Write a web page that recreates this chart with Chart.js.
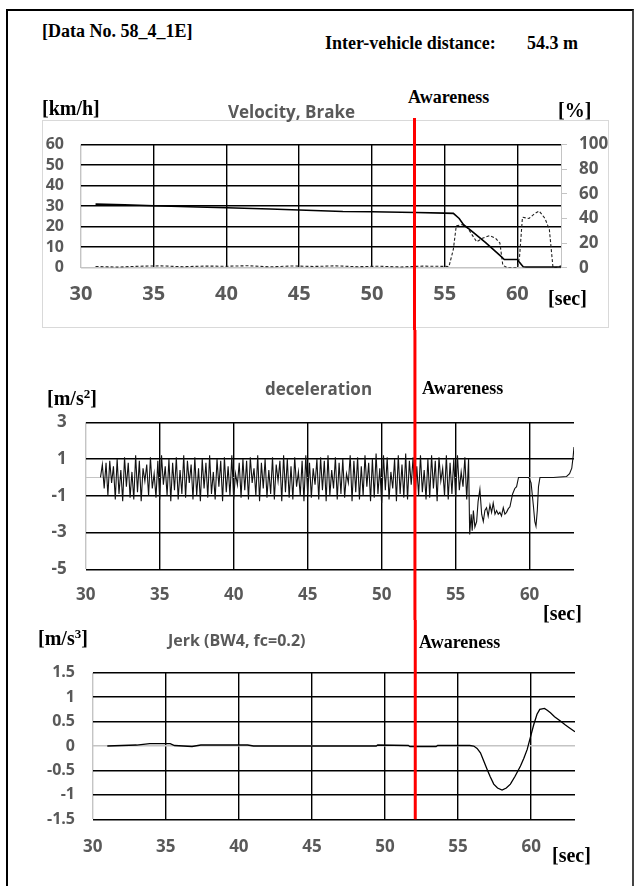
<!DOCTYPE html>
<html>
<head>
<meta charset="utf-8">
<script src="https://cdn.jsdelivr.net/npm/chart.js@4"></script>
<style>
  body { margin: 0; background: #fff; width: 635px; height: 886px; position: relative; overflow: hidden; }
  #frame { position: absolute; left: 6px; top: 9px; width: 624px; height: 900px; border-left: 2px solid #000; border-top: 2px solid #000; border-right: 2px solid #444; }
  #box1 { position: absolute; left: 42px; top: 120px; width: 565px; height: 206px; border: 1px solid #d9d9d9; }
  canvas { position: absolute; left: 0; }
  .t { position: absolute; white-space: nowrap; line-height: 1; }
  .serif { font-family: "Liberation Serif", "Times New Roman", serif; font-weight: bold; color: #000; }
  .sans { font-family: "Open Sans", sans-serif; font-weight: 700; color: #595959; }
  sup { font-size: 0.65em; vertical-align: 0.55em; line-height: 0; }
</style>
</head>
<body>
<div id="frame"></div>
<div id="box1"></div>
<canvas id="velChart" width="635" height="212" style="top:118px"></canvas>
<canvas id="decelChart" width="635" height="290" style="top:330px"></canvas>
<canvas id="jerkChart" width="635" height="266" style="top:620px"></canvas>

<div class="t serif" style="left:42px;top:22px;font-size:18px">[Data No. 58_4_1E]</div>
<div class="t serif" style="left:325px;top:34px;font-size:18px">Inter-vehicle distance:</div>
<div class="t serif" style="left:527px;top:34px;font-size:18px">54.3 m</div>

<div class="t serif" style="left:408px;top:88px;font-size:18px">Awareness</div>
<div class="t serif" style="left:42px;top:98px;font-size:20px">[km/h]</div>
<div class="t sans" style="left:228px;top:103px;font-size:17px">Velocity, Brake</div>
<div class="t serif" style="left:558px;top:100px;font-size:20px">[%]</div>
<div class="t serif" style="left:548px;top:288px;font-size:20px">[sec]</div>

<div class="t serif" style="left:47px;top:388px;font-size:20px">[m/s<sup>2</sup>]</div>
<div class="t sans" style="left:265px;top:380px;font-size:17px">deceleration</div>
<div class="t serif" style="left:422px;top:379px;font-size:18px">Awareness</div>
<div class="t serif" style="left:543px;top:603px;font-size:20px">[sec]</div>

<div class="t serif" style="left:38px;top:628px;font-size:20px">[m/s<sup>3</sup>]</div>
<div class="t sans" style="left:168px;top:632px;font-size:16px">Jerk (BW4, fc=0.2)</div>
<div class="t serif" style="left:419px;top:633px;font-size:18px">Awareness</div>
<div class="t serif" style="left:552px;top:845px;font-size:20px">[sec]</div>

<script>
// ---- data ----
const xTicks = [30, 35, 40, 45, 50, 55, 60];

// velocity [km/h]
const velT = [31.0, 33.0, 35.0, 38.0, 40.0, 43.0, 45.0, 48.0, 50.0, 53.0, 55.0, 55.6,
  56.0, 56.3, 56.8, 57.3, 57.8, 58.3, 58.8, 59.1, 60.0, 60.1, 60.4, 60.6, 63.0];
const velV = [31.0, 30.7, 30.2, 29.6, 29.2, 28.6, 28.1, 27.4, 27.3, 26.9, 26.6, 26.5,
  24.0, 21.0, 18.2, 15.3, 12.3, 9.2, 6.0, 4.0, 4.0, 3.0, 0.5, 0.3, 0.3];

// brake [%]
const brakeT = [31.0, 32.5, 34.0, 35.5, 37.0, 38.5, 40.0, 41.5, 43.0, 44.5, 46.0, 47.5, 49.0, 50.5, 52.0, 53.5, 55.3,
  55.6, 55.8, 56.2, 56.6, 57.2, 57.6, 58.1, 58.5, 58.8, 59.0, 59.3, 60.0,
  60.15, 60.35, 60.8, 61.2, 61.5, 61.9, 62.2, 62.45, 62.8, 63.0];
const brakeV = [1.0, 0.5, 1.2, 1.5, 0.8, 1.3, 1.2, 1.6, 0.7, 1.4, 1.0, 1.5, 0.8, 1.2, 0.6, 1.3, 1.0,
  15, 34, 35, 32, 21, 24, 26, 24, 20, 2, 0, 0,
  9, 41, 40, 44, 46, 40, 31, 0, 0.5, 1.5];

// deceleration [m/s2]: evenly sampled noisy part, then the braking tail
const decelT0 = 31.0;
const decelDt = 0.125;
const decelNoise = [
  0.0, 0.7, -0.6, 0.8, -1.0, 0.9, -0.3, 0.6, -1.2, 1.0, -0.9, 0.4, -1.3, 1.1, -0.5, 0.8, -1.1, 0.3, -1.2, 1.2,
  -0.8, 0.9, -1.3, 0.5, -0.2, 0.7, -1.0, 1.1, -0.6, 0.2, -1.1, 0.9, -1.2, 1.2, -0.4, 0.6, -1.0, 1.0, -1.3, 0.8,
  -0.7, 1.1, -1.2, 0.4, -0.9, 1.2, -1.1, 0.9, -0.3, 0.7, -1.2, 1.1, -1.0, 0.5, -1.3, 1.0, -0.6, 0.8, -1.1, 1.2,
  -0.9, 0.3, -1.2, 1.0, -0.5, 0.9, -1.3, 1.1, -0.8, 0.6, -1.0, 1.2, -1.2, 0.2, -0.4, 0.8, -1.1, 1.0, -0.7, 0.9,
  -1.2, 1.1, -0.3, 0.5, -1.0, 1.2, -1.3, 0.8, -0.6, 1.0, -1.1, 0.4, -0.9, 1.1, -1.2, 0.7, -0.2, 0.9, -1.3, 1.2,
  -0.8, 1.0, -1.1, 0.6, -1.2, 1.1, -0.5, 0.3, -1.0, 0.9, -1.3, 1.2, -0.9, 0.8, -1.1, 0.5, -0.4, 1.0, -1.2, 1.1,
  -0.7, 0.9, -1.3, 1.2, -1.0, 0.4, -0.6, 1.1, -1.2, 0.8, -0.9, 1.0, -1.1, 0.2, -0.3, 1.2, -1.3, 0.9, -0.8, 1.1,
  -1.2, 0.6, -1.0, 1.2, -0.5, 0.8, -1.3, 1.0, -1.1, 1.3, -0.9, 0.5, -1.4, 1.2, -0.7, 1.1, -1.2, 0.3, -0.6, 1.0,
  -1.3, 1.2, -0.9, 0.7, -1.1, 1.3, -1.2, 0.9, -0.4, 1.1, -1.3, 0.6, -1.0, 1.2, -0.8, 0.4, -1.2, 1.0, -1.1, 1.2,
  -0.6, 0.9, -1.3, 1.1, -0.2, 0.5, -1.0, 1.2, -1.2, 0.8, -0.9, 1.0, -1.1, 1.2, -0.7, 0.3, -0.5, 1.1, -1.2, 1.0
];
const decelTailT = [55.95, 56.05, 56.12, 56.2, 56.3, 56.42, 56.52, 56.64, 56.76, 56.87, 56.98, 57.09, 57.2, 57.32,
  57.43, 57.54, 57.66, 57.77, 57.88, 57.99, 58.1, 58.22, 58.33, 58.44, 58.56, 58.67, 58.85, 59.0, 59.12,
  59.25, 59.35, 59.8, 59.95, 60.1, 60.25, 60.35, 60.43, 60.52, 60.6, 60.7, 61.6, 62.5, 62.7, 62.85, 62.95, 63.0];
const decelTailV = [-3.1, -2.0, -2.9, -1.8, -2.7, -2.4, -1.3, -0.65, -2.0, -2.4, -1.8, -1.65, -2.1, -1.5,
  -1.9, -1.4, -2.0, -1.8, -2.0, -1.9, -2.1, -1.65, -2.0, -1.9, -1.7, -1.6, -0.9, -0.6, -0.5,
  0.0, 0.0, 0.0, 0.0, -0.3, -1.5, -2.4, -2.65, -1.8, -0.5, 0.0, 0.0, 0.05, 0.2, 0.5, 1.2, 1.65];

// jerk [m/s3]
const jerkT = [31.0, 32.0, 33.0, 33.9, 35.3, 35.6, 36.8, 37.4, 40.6, 41.0, 45.0, 49.4, 49.5, 51.6, 51.7, 53.5, 53.6, 55.8,
  56.07, 56.3, 56.53, 56.75, 56.99, 57.2, 57.44, 57.7, 58.01, 58.3, 58.58, 58.9, 59.27, 59.5, 59.73, 59.95,
  60.18, 60.4, 60.59, 60.91, 61.1, 61.32, 61.6, 62.0, 62.3, 62.58, 63.0];
const jerkV = [0.0, 0.01, 0.02, 0.05, 0.05, 0.01, -0.01, 0.02, 0.02, 0.0, 0.0, 0.0, 0.02, 0.01, -0.01, -0.01, 0.01, 0.01,
  0.0, -0.05, -0.14, -0.3, -0.48, -0.63, -0.78, -0.86, -0.9, -0.86, -0.78, -0.62, -0.41, -0.25, -0.07, 0.18,
  0.44, 0.65, 0.75, 0.77, 0.73, 0.68, 0.6, 0.51, 0.44, 0.38, 0.29];

// time of the awareness marker, as read against each chart's own time axis
const awareVel = 52.93, awareDecel = 52.25, awareJerk = 52.07;

// ---- helpers ----
const GRAY = '#595959';
const LIGHT = '#c4c4c4';
const GRID = '#000';
const FONT = '"Open Sans", sans-serif';

const pts = (t, v) => t.map((x, i) => ({ x, y: v[i] }));
const decelPts = decelNoise.map((y, i) => ({ x: decelT0 + i * decelDt, y }))
  .concat(pts(decelTailT, decelTailV));

const awarenessLine = {
  id: 'awareness',
  afterDatasetsDraw(chart, args, opts) {
    const { ctx, scales: { x } } = chart;
    const px = x.getPixelForValue(opts.at);
    const bottom = opts.toArea ? chart.chartArea.bottom : chart.height;
    ctx.save();
    ctx.strokeStyle = '#ff0000';
    ctx.lineWidth = 3;
    ctx.beginPath();
    ctx.moveTo(px, 0);
    ctx.lineTo(px, bottom);
    ctx.stroke();
    ctx.restore();
  }
};

// Excel draws its horizontal axis at 0 as a light line
const zeroLine = {
  id: 'zeroLine',
  beforeDatasetsDraw(chart, args, opts) {
    if (!opts.show) return;
    const { ctx, chartArea: a, scales: { y } } = chart;
    const py = Math.round(y.getPixelForValue(0)) + 0.5;
    ctx.save();
    ctx.strokeStyle = LIGHT;
    ctx.lineWidth = 1;
    ctx.beginPath();
    ctx.moveTo(a.left, py);
    ctx.lineTo(a.right, py);
    ctx.stroke();
    ctx.restore();
  }
};

function xScale(h, size, pad) {
  return {
    type: 'linear', min: 30, max: 63,
    afterFit: s => { s.height = h; },
    afterBuildTicks: s => { s.ticks = xTicks.map(value => ({ value })); },
    ticks: { color: GRAY, font: { family: FONT, size, weight: 'bold' }, padding: pad, maxRotation: 0, autoSkip: false },
    grid: { drawTicks: false, lineWidth: 1.4, color: c => (c.tick && c.tick.value === 30 ? LIGHT : GRID) },
    border: { display: false }
  };
}

function yScale(min, max, step, w, size, pad, lightAt) {
  return {
    min, max,
    afterFit: s => { s.width = w; },
    ticks: { stepSize: step, autoSkip: false, color: GRAY, font: { family: FONT, size, weight: 'bold' }, padding: pad,
      callback: v => String(v) },
    grid: { drawTicks: false, lineWidth: 1.4, color: c => (c.tick && c.tick.value === lightAt ? LIGHT : GRID) },
    border: { display: false }
  };
}

const base = {
  responsive: false,
  animation: false,
  events: [],
  plugins: { legend: { display: false }, tooltip: { enabled: false } },
  elements: { point: { radius: 0 }, line: { tension: 0 } }
};

// ---- velocity & brake ----
new Chart(document.getElementById('velChart'), {
  type: 'line',
  data: {
    datasets: [
      { label: 'Velocity', data: pts(velT, velV), borderColor: '#000', borderWidth: 1.6, yAxisID: 'y' },
      { label: 'Brake', data: pts(brakeT, brakeV), borderColor: '#222', borderWidth: 1.1, borderDash: [3, 2], yAxisID: 'y1' }
    ]
  },
  options: {
    ...base,
    layout: { padding: { top: 23, left: 0, right: 0, bottom: 0 } },
    plugins: { ...base.plugins, awareness: { at: awareVel }, zeroLine: { show: false } },
    scales: {
      x: xScale(62.3, 20, 15),
      y: { ...yScale(0, 60, 10, 81, 16, 17, 0), position: 'left' },
      y1: {
        position: 'right', min: 0, max: 100,
        afterFit: s => { s.width = 74; },
        ticks: { stepSize: 20, autoSkip: false, color: GRAY, font: { family: FONT, size: 17, weight: 'bold' }, padding: 12 },
        grid: { drawOnChartArea: false, drawTicks: true, tickLength: 6, color: LIGHT },
        border: { display: true, color: LIGHT }
      }
    }
  },
  plugins: [awarenessLine, zeroLine]
});

// ---- deceleration ----
new Chart(document.getElementById('decelChart'), {
  type: 'line',
  data: {
    datasets: [
      { label: 'deceleration', data: decelPts, borderColor: '#111', borderWidth: 1.1 }
    ]
  },
  options: {
    ...base,
    layout: { padding: { top: 92.3, left: 0, right: 61, bottom: 0 } },
    plugins: { ...base.plugins, awareness: { at: awareDecel }, zeroLine: { show: true } },
    scales: {
      x: xScale(50.7, 17, 15.5),
      y: yScale(-5, 3, 2, 85.7, 17, 19, null)
    }
  },
  plugins: [awarenessLine, zeroLine]
});

// ---- jerk ----
new Chart(document.getElementById('jerkChart'), {
  type: 'line',
  data: {
    datasets: [
      { label: 'Jerk', data: pts(jerkT, jerkV), borderColor: '#000', borderWidth: 1.3 }
    ]
  },
  options: {
    ...base,
    layout: { padding: { top: 52.7, left: 0, right: 60, bottom: 0 } },
    plugins: { ...base.plugins, awareness: { at: awareJerk, toArea: true }, zeroLine: { show: false } },
    scales: {
      x: xScale(66.7, 17, 17.2),
      y: yScale(-1.5, 1.5, 0.5, 92.7, 16, 17.7, 0)
    }
  },
  plugins: [awarenessLine, zeroLine]
});
</script>
</body>
</html>
